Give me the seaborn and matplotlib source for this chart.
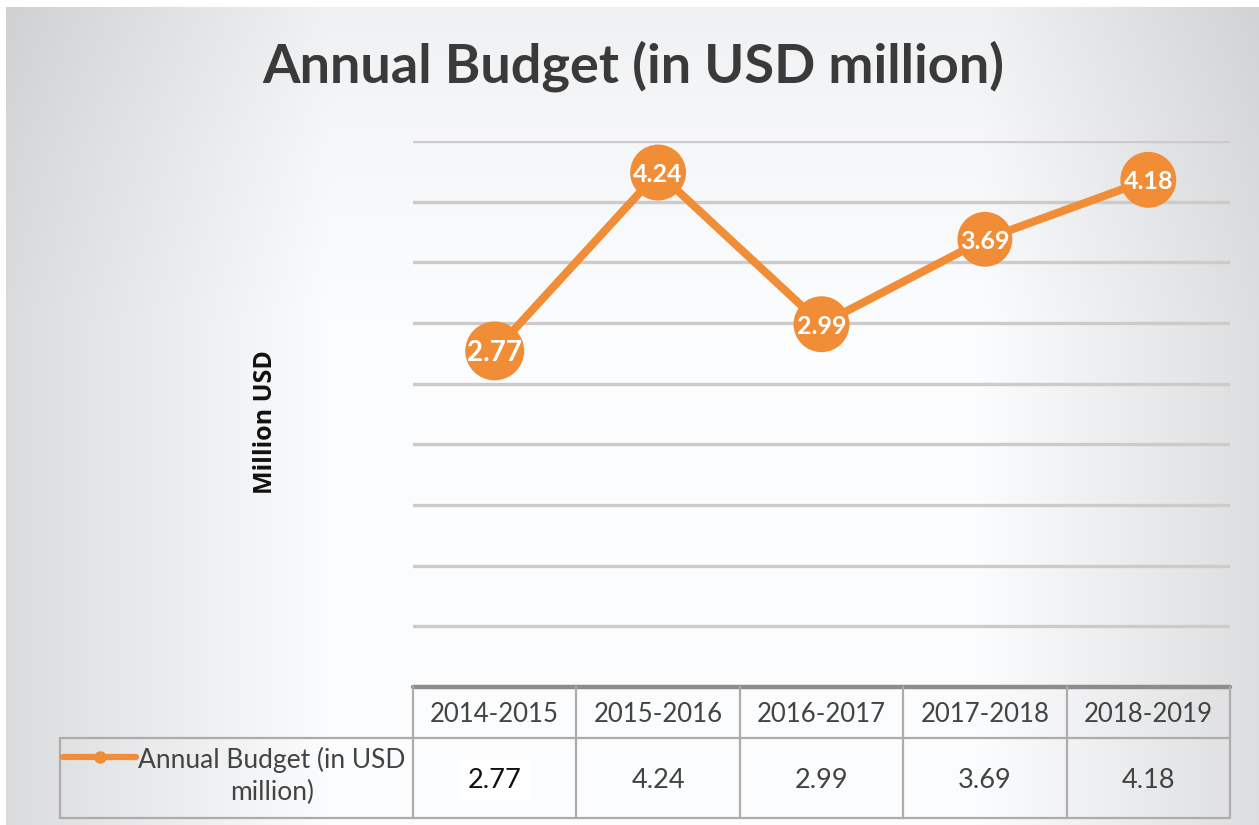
import numpy as np
import pandas as pd
import matplotlib
matplotlib.use("Agg")
import matplotlib.pyplot as plt
import matplotlib.transforms as mtransforms
from matplotlib.lines import Line2D
import seaborn as sns

# ---- data ----
years = ["2014-2015", "2015-2016", "2016-2017", "2017-2018", "2018-2019"]
budget = [2.77, 4.24, 2.99, 3.69, 4.18]
series_name = "Annual Budget (in USD million)"
title_text = "Annual Budget (in USD million)"
y_label = "Million USD"

# ---- style ----
ORANGE = "#F08D36"
GRID = "#CFCACA"
BORDER = "#B0ABAB"
TEXT = "#434343"
marker_area = [1800, 1620, 1620, 1560, 1620]
label_size = [20, 18, 18, 18, 18]

sns.set_theme(style="white")
plt.rcParams["font.family"] = ["Lato", "DejaVu Sans"]

W, H = 1259, 825
fig = plt.figure(figsize=(W / 100, H / 100), dpi=100)

# soft grey backdrop: white band in the middle, grey towards the edges and top
bg = fig.add_axes([0, 0, 1, 1], zorder=-10)
yy, xx = np.mgrid[0:H, 0:W]
hx = np.interp(xx, [0, 100, 330, 980, 1235, 1259],
               [0.855, 0.895, 0.985, 0.985, 0.875, 0.865])
ty = np.interp(yy, [0, 150, 320], [0.045, 0.02, 0.0])
v = np.clip(hx - ty, 0.78, 1.0)
img = np.clip(np.dstack([v, v + 0.004, v + 0.008]), 0, 1)
img[:7, :] = 1.0
img[:, :6] = 1.0
bg.imshow(img, aspect="auto", extent=[0, W, H, 0], interpolation="bilinear")
bg.set_axis_off()

# ---- main plot ----
ax = fig.add_axes([413 / W, (H - 687) / H, (1230 - 413) / W, (687 - 141) / H])
ax.patch.set_alpha(0)
df = pd.DataFrame({"pos": np.arange(len(years)), "year": years, "budget": budget})

sns.lineplot(data=df, x="pos", y="budget", ax=ax, color=ORANGE, lw=5.8,
             zorder=3, clip_on=False)
sns.scatterplot(data=df, x="pos", y="budget", ax=ax, color=ORANGE, s=marker_area,
                edgecolor="none", linewidth=0, zorder=4, clip_on=False)

for i, (xv, yv) in enumerate(zip(df["pos"], df["budget"])):
    ax.text(xv, yv, f"{yv:.2f}", ha="center", va="center_baseline", color="white",
            fontsize=label_size[i], fontweight="bold", zorder=5)

ax.set_xlim(-0.5, len(years) - 0.5)
ax.set_ylim(0, 4.5)
ax.set_yticks(np.arange(0.5, 4.51, 0.5))
ax.set_xticks([])
ax.yaxis.grid(True, color=GRID, lw=2.4)
ax.tick_params(left=False, labelleft=False, bottom=False, labelbottom=False)
for s in ax.spines.values():
    s.set_visible(False)
ax.set_xlabel("")
ax.set_ylabel("")

# ---- data table under the plot ----
tr = mtransforms.blended_transform_factory(ax.transData, ax.transAxes)
px = 546.0
y0, y1, y2 = 0.0, -(738 - 687) / px, -(818 - 687) / px
xl = (60 - 413) / 163.4 - 0.5
xr = len(years) - 0.5

def seg(xs, ys, color=BORDER, lw=1.6, z=2):
    ax.add_line(Line2D(xs, ys, transform=tr, color=color, lw=lw,
                       clip_on=False, zorder=z))

seg([-0.5, xr], [y0, y0], color="#8F8B8B", lw=3.2)
seg([xl, xr], [y1, y1])
seg([xl, xr], [y2, y2])
seg([xl, xl], [y1, y2])
for k in range(len(years) + 1):
    seg([k - 0.5, k - 0.5], [y0, y2])

for i, (yr, val) in enumerate(zip(years, budget)):
    ax.text(i, (y0 + y1) / 2, yr, transform=tr, ha="center", va="center_baseline",
            fontsize=18.5, color=TEXT, clip_on=False)
    box = dict(boxstyle="square,pad=0.3", fc="white", ec="none") if i == 0 else None
    ax.text(i, (y1 + y2) / 2, f"{val:.2f}", transform=tr, ha="center",
            va="center_baseline", fontsize=19.5,
            color="#111111" if i == 0 else TEXT, bbox=box, clip_on=False)

# legend key inside the table
ly = -(757 - 687) / px
lx0, lx1 = (63 - 413) / 163.4 - 0.5, (136 - 413) / 163.4 - 0.5
ax.add_line(Line2D([lx0, lx1], [ly, ly], transform=tr, color=ORANGE, lw=4.5,
                   clip_on=False, zorder=3))
ax.add_line(Line2D([(lx0 + lx1) / 2], [ly], transform=tr, color=ORANGE, marker="o",
                   markersize=8, lw=0, clip_on=False, zorder=3))
name_lines = series_name.replace(" million", "\nmillion")
ax.text((272 - 413) / 163.4 - 0.5, -(776 - 687) / px, name_lines, transform=tr,
        ha="center", va="center", multialignment="center", fontsize=19,
        color=TEXT, linespacing=1.35, clip_on=False)

# ---- titles ----
fig.text(633 / W, 1 - 83 / H, title_text, ha="center", va="baseline",
         fontsize=39, fontweight="bold", color="#3A3A3A")
fig.text(266 / W, 1 - 422 / H, y_label, rotation=90, ha="center", va="center",
         fontsize=18, fontweight="bold", color="#111111", family=["Open Sans", "DejaVu Sans"])

fig.savefig("out.png", dpi=100)
